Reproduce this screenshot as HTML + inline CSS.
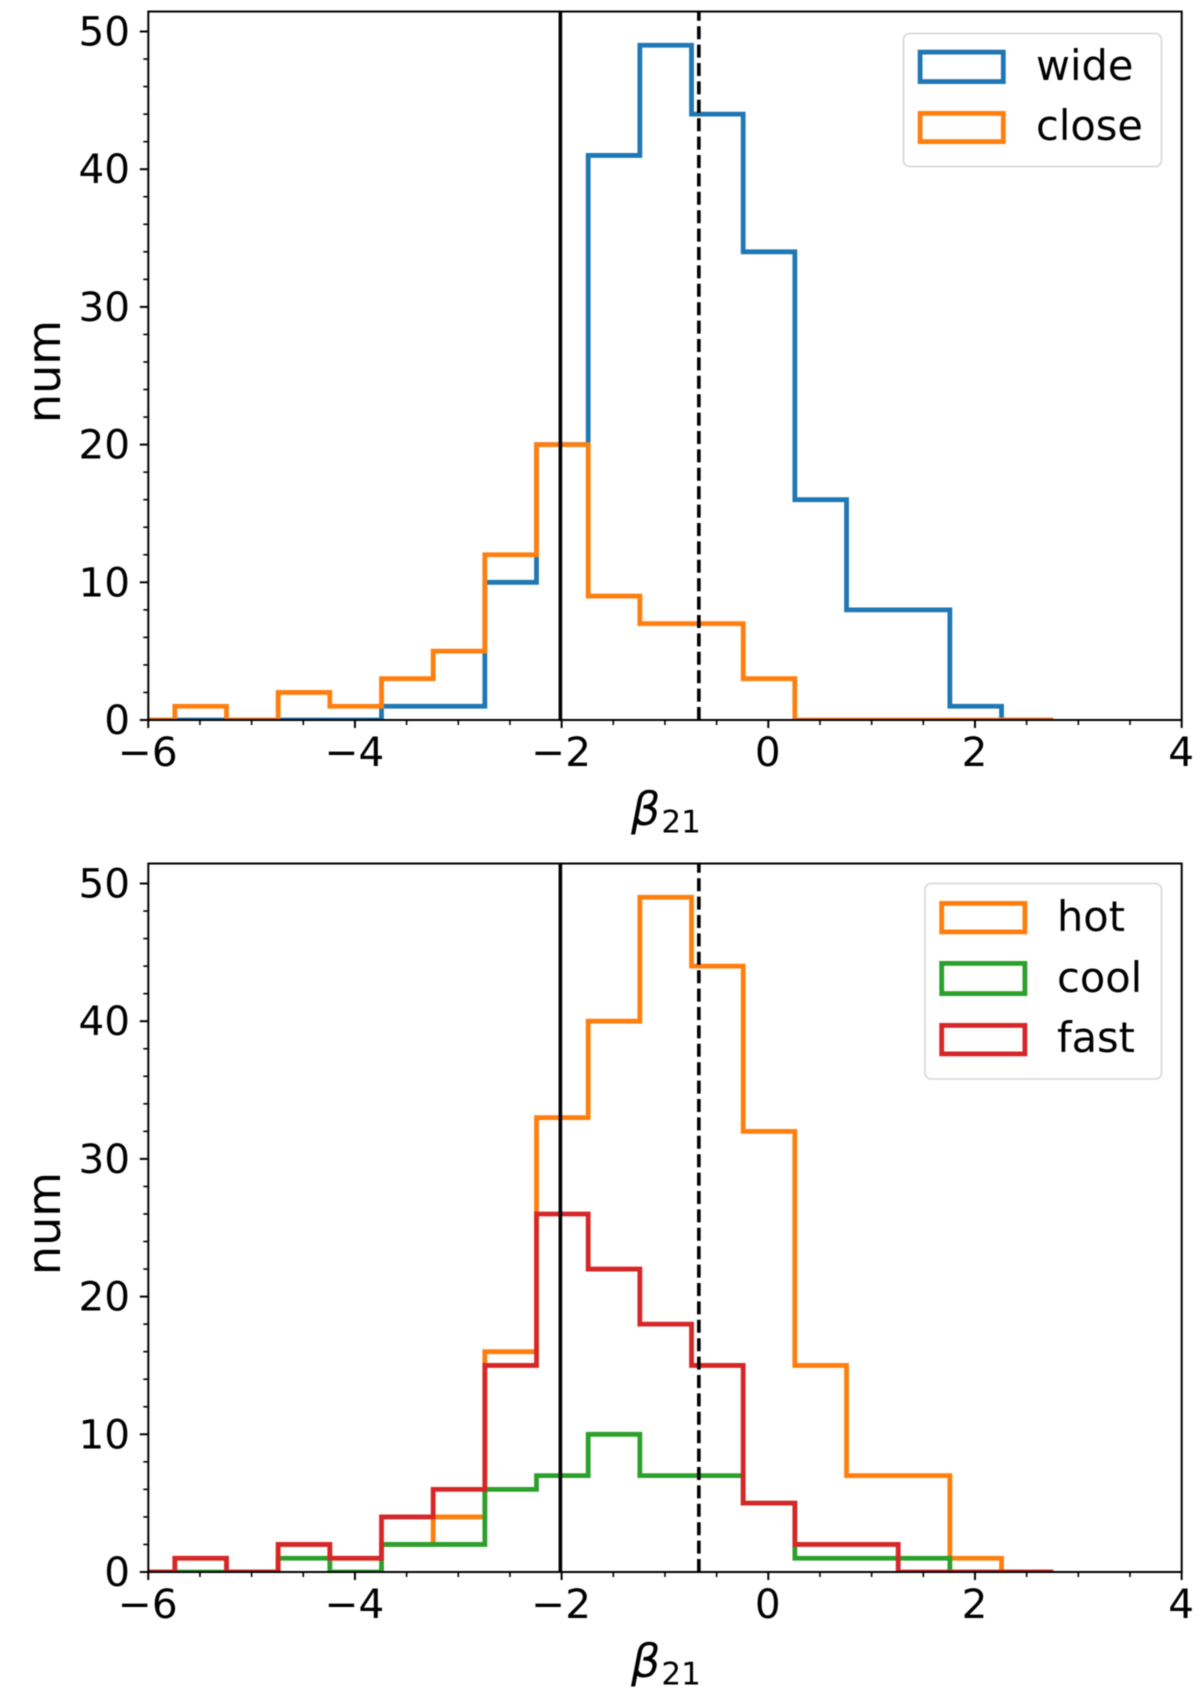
<!DOCTYPE html>
<html lang="en">
<head>
<meta charset="utf-8">
<title>Histograms of beta21</title>
<style>
  html, body { margin: 0; padding: 0; background: #fff; }
  svg { display: block; font-family: "DejaVu Sans", "Liberation Sans", sans-serif; fill: #000; filter: blur(0.45px); }
</style>
</head>
<body>
<svg id="chart" xmlns="http://www.w3.org/2000/svg" width="1200" height="1693" viewBox="0 0 1200 1693"></svg>
<script>
const binStart = -6.243;
const binWidth = 0.5;
const xMajorTicks = [-6, -4, -2, 0, 2, 4];
const xMinorTicks = [-5.5, -5, -4.5, -3.5, -3, -2.5, -1.5, -1, -0.5, 0.5, 1, 1.5, 2.5, 3, 3.5];
const yMajorTicks = [0, 10, 20, 30, 40, 50];
const yMinorTicks = [2, 4, 6, 8, 12, 14, 16, 18, 22, 24, 26, 28, 32, 34, 36, 38, 42, 44, 46, 48];
const referenceSolid = -2.012;
const referenceDashed = -0.672;
const wideCounts  = [0, 0, 0, 0, 0, 1, 1, 10, 20, 41, 49, 44, 34, 16, 8, 8, 1, 0];
const closeCounts = [0, 1, 0, 2, 1, 3, 5, 12, 20, 9, 7, 7, 3, 0, 0, 0, 0, 0];
const hotCounts   = [0, 1, 0, 2, 1, 2, 4, 16, 33, 40, 49, 44, 32, 15, 7, 7, 1, 0];
const coolCounts  = [0, 0, 0, 1, 0, 2, 2, 6, 7, 10, 7, 7, 5, 1, 1, 1, 0, 0];
const fastCounts  = [0, 1, 0, 2, 1, 4, 6, 15, 26, 22, 18, 15, 5, 2, 2, 0, 0, 0];

const NS = 'http://www.w3.org/2000/svg';
const svg = document.getElementById('chart');
const LEFT = 148.3, RIGHT = 1181.7, X_ZERO = 768.3, X_UNIT = 103.34, Y_UNIT = 13.77, Y_MAX = 51.45;
const COLORS = { blue: '#1f77b4', orange: '#ff7f0e', green: '#2ca02c', red: '#d62728' };
function xScale(v) { return X_ZERO + v * X_UNIT; }
function make(tag, attrs, parent) {
  const el = document.createElementNS(NS, tag);
  for (const k in attrs) el.setAttribute(k, attrs[k]);
  parent.appendChild(el);
  return el;
}
function fmt(v) { return String(Math.abs(v)); }
function stepPath(counts, yScale) {
  let d = 'M' + xScale(binStart).toFixed(2) + ' ' + yScale(0).toFixed(2);
  counts.forEach(function (c, i) {
    const x0 = xScale(binStart + i * binWidth), x1 = xScale(binStart + (i + 1) * binWidth), y = yScale(c);
    d += 'L' + x0.toFixed(2) + ' ' + y.toFixed(2) + 'L' + x1.toFixed(2) + ' ' + y.toFixed(2);
  });
  return d;
}
function drawPanel(name, baseY, series) {
  const topY = baseY - Y_MAX * Y_UNIT;
  const yScale = function (v) { return baseY - v * Y_UNIT; };
  const g = make('g', {}, svg);
  
  
  const clipId = name + '-clip';
  const clip = make('clipPath', { id: clipId }, g);
  make('rect', { x: LEFT, y: topY, width: RIGHT - LEFT, height: baseY - topY }, clip);

  series.forEach(function (s) {
    const p = make('path', { d: stepPath(s.counts, yScale), fill: 'none', stroke: s.color, 'stroke-width': 4.8, 'stroke-linejoin': 'miter', 'clip-path': 'url(#' + clipId + ')' }, g);
    
    
  });

  const solid = make('line', { x1: xScale(referenceSolid), x2: xScale(referenceSolid), y1: baseY, y2: topY, stroke: '#000', 'stroke-width': 3.6 }, g);
  
  
  const dashed = make('line', { x1: xScale(referenceDashed), x2: xScale(referenceDashed), y1: baseY, y2: topY, stroke: '#000', 'stroke-width': 3.6, 'stroke-dasharray': '13 5.4' }, g);
  
  

  xMinorTicks.forEach(function (v) {
    const t = make('line', { x1: xScale(v), x2: xScale(v), y1: baseY, y2: baseY + 5, stroke: '#000', 'stroke-width': 1.6 }, g);
    
    
  });
  yMinorTicks.forEach(function (v) {
    const t = make('line', { x1: LEFT, x2: LEFT - 5, y1: yScale(v), y2: yScale(v), stroke: '#000', 'stroke-width': 1.6 }, g);
    
    
  });
  xMajorTicks.forEach(function (v) {
    const t = make('line', { x1: xScale(v), x2: xScale(v), y1: baseY, y2: baseY + 8, stroke: '#000', 'stroke-width': 2 }, g);
    
    
    const l = make('text', { x: xScale(v) - 0.5, y: baseY + 46, 'font-size': 40.5, 'text-anchor': 'middle' }, g);
    
    
    l.textContent = (v < 0 ? '\u2212' : '') + fmt(v);
  });
  yMajorTicks.forEach(function (v) {
    const t = make('line', { x1: LEFT, x2: LEFT - 8.5, y1: yScale(v), y2: yScale(v), stroke: '#000', 'stroke-width': 2 }, g);
    
    
    const l = make('text', { x: 130, y: yScale(v) + 14, 'font-size': 40.5, 'text-anchor': 'end' }, g);
    
    
    l.textContent = String(v);
  });

  const frame = make('rect', { x: LEFT, y: topY, width: RIGHT - LEFT, height: baseY - topY, fill: 'none', stroke: '#000', 'stroke-width': 2 }, g);
  
  

  const yTitle = make('text', { transform: 'translate(60 ' + (baseY - 348.5) + ') rotate(-90)', 'font-size': 46, 'text-anchor': 'middle' }, g);
  
  
  yTitle.textContent = 'num';

  const xTitle = make('text', { x: 631, y: baseY + 105, 'font-size': 46 }, g);
  
  
  const beta = make('tspan', { 'font-style': 'italic' }, xTitle);
  beta.textContent = '\u03B2';
  const sub = make('tspan', { 'font-size': 31, dx: 1, dy: 7.5 }, xTitle);
  sub.textContent = '21';
}
drawPanel('top-panel', 720, [
  { name: 'wide', counts: wideCounts, color: COLORS.blue },
  { name: 'close', counts: closeCounts, color: COLORS.orange }
]);
drawPanel('bottom-panel', 1572, [
  { name: 'hot', counts: hotCounts, color: COLORS.orange },
  { name: 'cool', counts: coolCounts, color: COLORS.green },
  { name: 'fast', counts: fastCounts, color: COLORS.red }
]);

function drawLegend(name, box, rows) {
  const g = make('g', {}, svg);
  
  
  const bg = make('rect', { x: box.x0, y: box.y0, width: box.x1 - box.x0, height: box.y1 - box.y0, rx: 6, ry: 6, fill: '#fff', stroke: '#d6d6d6', 'stroke-width': 1.6 }, g);
  
  
  rows.forEach(function (r) {
    const swatch = make('rect', { x: box.px0 + 2.4, y: r.y0 + 2.4, width: box.px1 - box.px0 - 4.8, height: r.y1 - r.y0 - 4.8, fill: 'none', stroke: r.color, 'stroke-width': 4.8 }, g);
    
    
    const t = make('text', { x: box.tx, y: r.base, 'font-size': 41.5 }, g);
    
    
    t.textContent = r.label;
  });
}
drawLegend('top-legend', { x0: 903.5, x1: 1161.5, y0: 33.5, y1: 166.5, px0: 917.7, px1: 1005.7, tx: 1036 }, [
  { label: 'wide', color: COLORS.blue, y0: 49.7, y1: 84, base: 80 },
  { label: 'close', color: COLORS.orange, y0: 111, y1: 144, base: 140 }
]);
drawLegend('bottom-legend', { x0: 925, x1: 1161.5, y0: 883.5, y1: 1079, px0: 939.3, px1: 1027.3, tx: 1057 }, [
  { label: 'hot', color: COLORS.orange, y0: 901, y1: 934.3, base: 931 },
  { label: 'cool', color: COLORS.green, y0: 961, y1: 996, base: 992 },
  { label: 'fast', color: COLORS.red, y0: 1023, y1: 1056.3, base: 1052 }
]);
</script>
</body>
</html>
